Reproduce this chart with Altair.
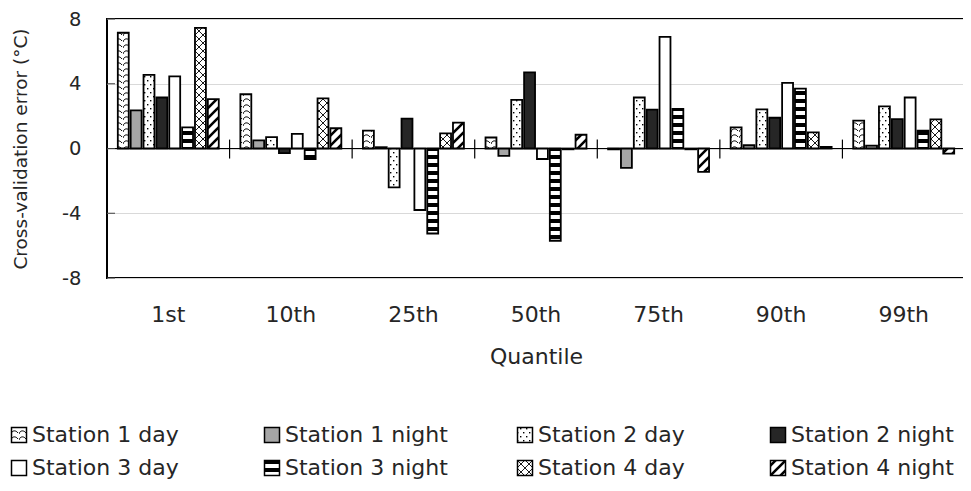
import altair as alt
import pandas as pd

# ---------------- data ----------------
quantiles = ["1st", "10th", "25th", "50th", "75th", "90th", "99th"]
series = ["Station 1 day", "Station 1 night", "Station 2 day", "Station 2 night",
          "Station 3 day", "Station 3 night", "Station 4 day", "Station 4 night"]

s1_day = [7.15, 3.35, 1.10, 0.68, -0.05, 1.30, 1.72]
s1_night = [2.35, 0.50, 0.08, -0.45, -1.20, 0.20, 0.18]
s2_day = [4.55, 0.70, -2.40, 3.00, 3.15, 2.42, 2.60]
s2_night = [3.15, -0.28, 1.85, 4.70, 2.40, 1.90, 1.82]
s3_day = [4.45, 0.90, -3.80, -0.65, 6.90, 4.05, 3.15]
s3_night = [1.30, -0.65, -5.25, -5.70, 2.45, 3.70, 1.10]
s4_day = [7.45, 3.10, 0.93, -0.05, -0.05, 1.00, 1.80]
s4_night = [3.05, 1.25, 1.60, 0.85, -1.45, 0.10, -0.32]

y_ticks = [8, 4, 0, -4, -8]

values = [s1_day, s1_night, s2_day, s2_night, s3_day, s3_night, s4_day, s4_night]
rows = []
for name, vals in zip(series, values):
    for q, v in zip(quantiles, vals):
        rows.append({"quantile": q, "series": name, "value": v})
df = pd.DataFrame(rows)

# fills (patterns are defined as SVG defs in the page template)
fills = ["url(#pS1d)", "#a6a6a6", "url(#pS2d)", "#262626",
         "#ffffff", "url(#pS3n)", "url(#pS4d)", "url(#pS4n)"]

PATTERNS = """
<pattern id="pS1d" patternUnits="userSpaceOnUse" width="8" height="6">
  <rect width="8" height="6" fill="white"/>
  <path d="M0,5 C1,1 5,1 7,4" fill="none" stroke="black" stroke-width="1"/>
</pattern>
<pattern id="pS2d" patternUnits="userSpaceOnUse" width="6" height="8">
  <rect width="6" height="8" fill="white"/>
  <rect x="1" y="1" width="1.4" height="1.4" fill="black"/>
  <rect x="4" y="5" width="1.4" height="1.4" fill="black"/>
</pattern>
<pattern id="pS3n" patternUnits="userSpaceOnUse" width="4" height="8">
  <rect width="4" height="8" fill="white"/>
  <rect width="4" height="4" fill="black"/>
</pattern>
<pattern id="pS4d" patternUnits="userSpaceOnUse" width="8" height="8">
  <rect width="8" height="8" fill="white"/>
  <path d="M0,0 L8,8 M8,0 L0,8" stroke="black" stroke-width="0.9"/>
</pattern>
<pattern id="pS4n" patternUnits="userSpaceOnUse" width="10" height="10">
  <rect width="10" height="10" fill="white"/>
  <path d="M0,10 L10,0 M-2,2 L2,-2 M8,12 L12,8" stroke="black" stroke-width="2.6"/>
</pattern>
"""

TXT = "#262626"
FONT = "DejaVu Sans"
W, H = 858, 259

yscale = alt.Scale(domain=[-8, 8], nice=False, zero=False)
xscale = alt.Scale(domain=quantiles, paddingInner=0, paddingOuter=0)

bars = alt.Chart(df).mark_bar(stroke="black", strokeWidth=1.8).encode(
    x=alt.X("quantile:N", scale=xscale, sort=quantiles,
            axis=alt.Axis(title="Quantile", ticks=False, tickSize=0, domain=False,
                          labelAngle=0, labelPadding=26, titlePadding=21,
                          labelFontSize=22, titleFontSize=22)),
    xOffset=alt.XOffset("series:N",
                        scale=alt.Scale(domain=series, paddingInner=0.15, paddingOuter=0.84)),
    y=alt.Y("value:Q", scale=yscale,
            axis=alt.Axis(values=y_ticks, title="Cross-validation error (°C)",
                          labelExpr="replace(datum.label, '\u2212', '-')",
                          grid=True, gridColor="#d9d9d9", gridWidth=1.2,
                          ticks=False, tickSize=0, domain=False,
                          labelPadding=26, titlePadding=31,
                          labelFontSize=19.5, titleFontSize=18.5)),
    fill=alt.Fill("series:N", scale=alt.Scale(domain=series, range=fills),
                  legend=alt.Legend(orient="none", legendX=-99, legendY=405,
                                    direction="horizontal", columns=4, title=None,
                                    symbolType="square", symbolSize=225,
                                    symbolStrokeColor="black", symbolStrokeWidth=1.5,
                                    labelFont=FONT, labelFontSize=22, labelColor=TXT,
                                    labelOffset=2, columnPadding=66, rowPadding=11,
                                    gridAlign="all", labelLimit=400, padding=0)),
)

zero_line = alt.Chart(pd.DataFrame({"value": [0]})).mark_rule(
    color="black", strokeWidth=1.2).encode(y=alt.Y("value:Q", scale=yscale))

group_ticks = alt.Chart(pd.DataFrame({"quantile": quantiles})).mark_rule(
    color="black", strokeWidth=1.2).encode(
    x=alt.X("quantile:N", scale=xscale, sort=quantiles, bandPosition=0),
    y=alt.datum(0.55),
    y2=alt.datum(-0.62),
)

inner_ticks = alt.Chart(pd.DataFrame({"value": y_ticks})).mark_rule(
    color="#404040", strokeWidth=1).encode(
    y=alt.Y("value:Q", scale=yscale),
    x=alt.value(0),
    x2=alt.value(8),
)

chart = alt.layer(bars, zero_line, group_ticks, inner_ticks).properties(
    width=W, height=H, padding={"left": 0, "top": 1, "right": 4, "bottom": 4}
).configure_view(
    stroke="black", strokeWidth=2
).configure_axis(
    labelFont=FONT, titleFont=FONT, labelColor=TXT, titleColor=TXT,
    titleFontWeight="normal"
)

TEMPLATE_SRC = """<!DOCTYPE html>
<html>
<head>
<meta charset="utf-8">
<script type="text/javascript" src="{{ base_url }}/vega@{{ vega_version }}"></script>
<script type="text/javascript" src="{{ base_url }}/vega-lite@{{ vegalite_version }}"></script>
<script type="text/javascript" src="{{ base_url }}/vega-embed@{{ vegaembed_version }}"></script>
</head>
<body>
<svg width="0" height="0" style="position:absolute;left:0;top:0" aria-hidden="true"><defs>
""" + PATTERNS + """
</defs></svg>
<div id="{{ output_div }}"></div>
<script type="text/javascript">
vegaEmbed("#{{ output_div }}", {{ spec }}, {{ embed_options }}).catch(console.error);
</script>
</body>
</html>"""

try:
    import jinja2
    template = jinja2.Template(TEMPLATE_SRC)
    chart.save("out.html", embed_options={"renderer": "svg", "actions": False},
               template=template)
except Exception:
    chart.save("out.html", embed_options={"renderer": "svg", "actions": False})
